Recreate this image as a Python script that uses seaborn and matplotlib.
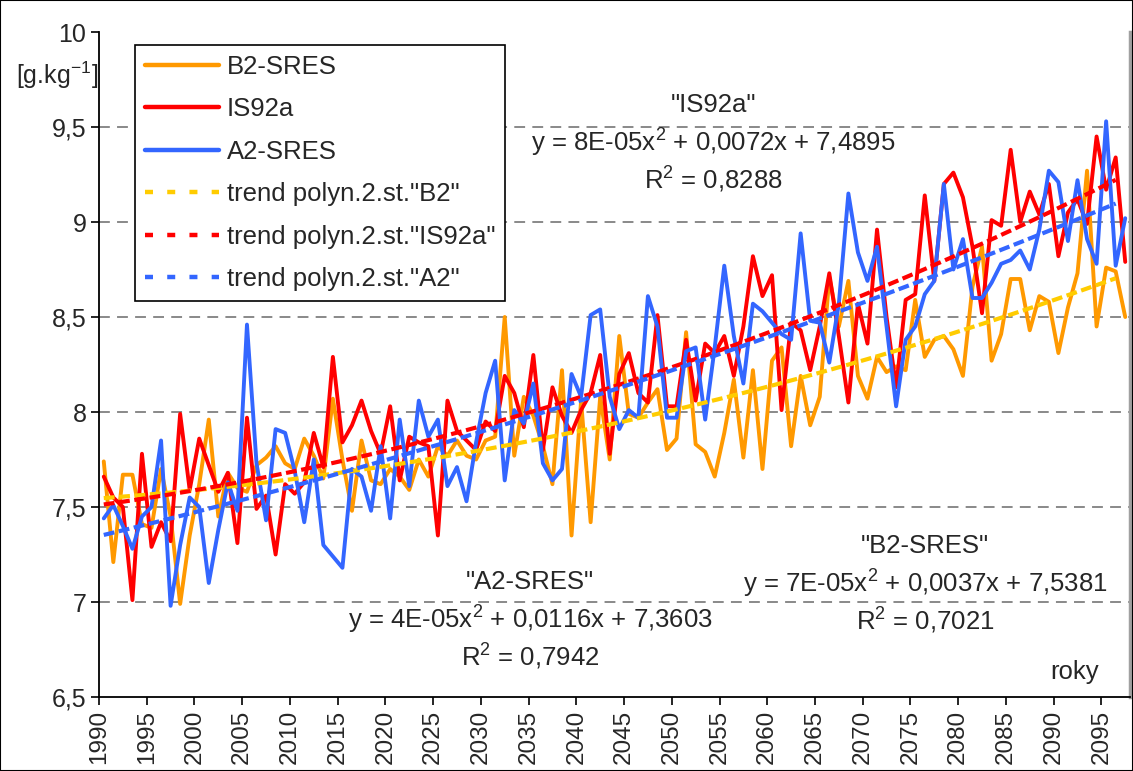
import numpy as np
import pandas as pd
import matplotlib
matplotlib.use("Agg")
import matplotlib.pyplot as plt
from matplotlib.lines import Line2D
from matplotlib.patches import Rectangle
import seaborn as sns

# ---------------- data ----------------
years = list(range(1990, 2098))  # 108 yearly categories

b2_sres = [7.74, 7.21, 7.67, 7.67, 7.41, 7.39, 7.70, 7.45, 6.99, 7.35,
           7.62, 7.96, 7.45, 7.68, 7.60, 7.58, 7.72, 7.76, 7.82, 7.73,
           7.70, 7.86, 7.77, 7.65, 8.07, 7.75, 7.48, 7.85, 7.64, 7.62,
           7.70, 7.66, 7.59, 7.75, 7.66, 7.82, 7.77, 7.85, 7.77, 7.75,
           7.85, 7.87, 8.50, 7.77, 8.08, 7.98, 7.82, 7.62, 8.22, 7.35,
           8.06, 7.42, 8.08, 7.75, 8.40, 7.99, 7.97, 8.05, 8.12, 7.80,
           7.86, 8.42, 7.83, 7.79, 7.66, 7.89, 8.17, 7.76, 8.22, 7.70,
           8.27, 8.34, 7.82, 8.19, 7.93, 8.08, 8.71, 8.45, 8.69, 8.19,
           8.07, 8.29, 8.21, 8.24, 8.22, 8.59, 8.29, 8.38, 8.40, 8.33,
           8.19, 8.66, 8.87, 8.27, 8.41, 8.70, 8.70, 8.43, 8.61, 8.58,
           8.31, 8.55, 8.73, 9.27, 8.45, 8.76, 8.74, 8.50]

is92a = [7.66, 7.55, 7.50, 7.01, 7.78, 7.29, 7.42, 7.32, 7.99, 7.59,
         7.86, 7.72, 7.58, 7.68, 7.31, 7.97, 7.49, 7.56, 7.25, 7.62,
         7.57, 7.63, 7.89, 7.71, 8.29, 7.84, 7.93, 8.06, 7.90, 7.78,
         8.03, 7.64, 7.87, 7.84, 7.82, 7.35, 8.06, 7.90, 7.85, 7.80,
         7.95, 7.90, 8.19, 8.10, 7.92, 8.30, 7.80, 8.13, 7.98, 7.89,
         8.01, 8.10, 8.30, 7.78, 8.20, 8.31, 8.10, 8.05, 8.51, 8.03,
         8.03, 8.38, 8.06, 8.36, 8.31, 8.40, 8.19, 8.45, 8.82, 8.61,
         8.72, 8.01, 8.47, 8.43, 8.22, 8.45, 8.73, 8.40, 8.05, 8.57,
         8.36, 8.96, 8.50, 8.13, 8.59, 8.62, 9.14, 8.69, 9.20, 9.26,
         9.13, 8.87, 8.52, 9.01, 8.98, 9.38, 9.00, 9.16, 9.04, 9.20,
         8.82, 9.05, 9.12, 8.99, 9.45, 9.17, 9.34, 8.79]

a2_sres = [7.44, 7.51, 7.40, 7.28, 7.45, 7.50, 7.85, 6.98, 7.30, 7.55,
           7.50, 7.10, 7.38, 7.63, 7.48, 8.46, 7.73, 7.43, 7.91, 7.89,
           7.69, 7.42, 7.75, 7.30, 7.24, 7.18, 7.70, 7.66, 7.48, 7.82,
           7.44, 7.96, 7.61, 8.06, 7.87, 7.96, 7.61, 7.71, 7.53, 7.84,
           8.10, 8.27, 7.64, 8.01, 7.94, 8.15, 7.73, 7.64, 7.70, 8.20,
           8.08, 8.51, 8.54, 8.08, 7.91, 8.01, 7.97, 8.61, 8.45, 7.97,
           7.97, 8.32, 8.34, 7.96, 8.34, 8.77, 8.40, 8.15, 8.57, 8.53,
           8.47, 8.41, 8.38, 8.94, 8.48, 8.47, 8.26, 8.57, 9.15, 8.84,
           8.69, 8.87, 8.45, 8.03, 8.38, 8.45, 8.62, 8.69, 9.20, 8.75,
           8.91, 8.60, 8.60, 8.68, 8.78, 8.80, 8.85, 8.75, 8.96, 9.27,
           9.21, 8.90, 9.22, 8.91, 8.78, 9.53, 8.77, 9.02]

series_names = ["B2-SRES", "IS92a", "A2-SRES"]
trend_names = ['trend polyn.2.st."B2"', 'trend polyn.2.st."IS92a"', 'trend polyn.2.st."A2"']
y_ticks = [6.5, 7.0, 7.5, 8.0, 8.5, 9.0, 9.5, 10.0]
y_tick_labels = ["6,5", "7", "7,5", "8", "8,5", "9", "9,5", "10"]
x_label_years = list(range(1990, 2096, 5))

line_colors = ["#FF9900", "#FF0000", "#3366FF"]
trend_colors = ["#FFCC00", "#FF0000", "#3366FF"]

# ---------------- figure ----------------
sns.set_style("white")
plt.rcParams["font.family"] = ["Liberation Sans", "DejaVu Sans"]
plt.rcParams["mathtext.fontset"] = "custom"
plt.rcParams["mathtext.rm"] = "Liberation Sans"
plt.rcParams["mathtext.it"] = "Liberation Sans:italic"

W, H = 1133, 771
fig = plt.figure(figsize=(W / 100, H / 100), dpi=100)
fig.patch.set_facecolor("white")
L, R, T, B = 99, 1130, 32, 697
ax = fig.add_axes([L / W, 1 - B / H, (R - L) / W, (B - T) / H])

idx = np.arange(len(years))
df = pd.DataFrame({
    "k": np.tile(idx, 3),
    "value": b2_sres + is92a + a2_sres,
    "series": np.repeat(series_names, len(years)),
})

# grid lines
for yv in y_ticks[1:-1]:
    ax.axhline(yv, color="#808080", lw=1.3, ls=(0, (6, 4)), zorder=0)

sns.lineplot(data=df, x="k", y="value", hue="series", hue_order=series_names,
             palette=line_colors, lw=2.8, legend=False, sort=False,
             estimator=None, ax=ax, zorder=2)

# polynomial (2nd order) trends fitted on the series, x = 1..N like Excel
xfit = idx + 1
for vals, c in zip([b2_sres, is92a, a2_sres], trend_colors):
    coef = np.polyfit(xfit, np.asarray(vals), 2)
    tr = np.polyval(coef, xfit)
    sns.lineplot(x=idx[:-1], y=tr[:-1], color=c, lw=3.0, ax=ax, zorder=3,
                 linestyle=(0, (2.6, 1.1)))

ax.set_xlim(-0.5, len(years) - 0.5)
ax.set_ylim(6.5, 10)
ax.set_xlabel("")
ax.set_ylabel("")

ax.set_yticks(y_ticks)
ax.set_yticklabels(y_tick_labels, fontsize=18)
xt = [years.index(y) - 0.5 for y in x_label_years]
ax.set_xticks(xt)
ax.set_xticklabels([str(y) for y in x_label_years], rotation=90, fontsize=17.5)
ax.tick_params(axis="both", direction="out", length=6, width=1.2, color="black",
               left=True, bottom=True, pad=3)

for s in ["left", "bottom"]:
    ax.spines[s].set_color("black")
    ax.spines[s].set_linewidth(1.3)
ax.spines["top"].set_visible(False)
ax.spines["right"].set_color("#A0A0A0")
ax.spines["right"].set_linewidth(2.5)

# legend
handles = [Line2D([], [], color=c, lw=3.2) for c in line_colors] + \
          [Line2D([], [], color=c, lw=3.2, ls=(0, (1.8, 3.2))) for c in trend_colors]
leg = ax.legend(handles, series_names + trend_names, loc="upper left",
                bbox_to_anchor=((135 - L) / (R - L), (B - 45) / (B - T)),
                borderaxespad=0, fontsize=18.5, frameon=True, fancybox=False,
                framealpha=1, edgecolor="black", handlelength=2.9,
                handletextpad=0.3, labelspacing=0.72, borderpad=0.38)
leg.get_frame().set_linewidth(1.2)
leg.set_zorder(5)

def px(x, y):
    return (x / W, 1 - y / H)

fs = 18.5
ann = [
    (713, 105, '"IS92a"'),
    (713, 143, "y = 8E-05x$^2$ + 0,0072x + 7,4895"),
    (713, 180, "R$^2$ = 0,8288"),
    (925, 546, '"B2-SRES"'),
    (925, 584, "y = 7E-05x$^2$ + 0,0037x + 7,5381"),
    (925, 621, "R$^2$ = 0,7021"),
    (530, 582, '"A2-SRES"'),
    (530, 620, "y = 4E-05x$^2$ + 0,0116x + 7,3603"),
    (530, 657, "R$^2$ = 0,7942"),
    (1075, 672, "roky"),
]
for x, y, t in ann:
    fig.text(*px(x, y), t, ha="center", va="center", fontsize=fs, zorder=6)

fig.text(*px(57, 75), "[g.kg$^{-1}$]", ha="center", va="center", fontsize=18)

fig.patches.append(Rectangle((0, 0), 1, 1, transform=fig.transFigure,
                             fill=False, ec="black", lw=1.5))

fig.savefig("out.png", dpi=100)
